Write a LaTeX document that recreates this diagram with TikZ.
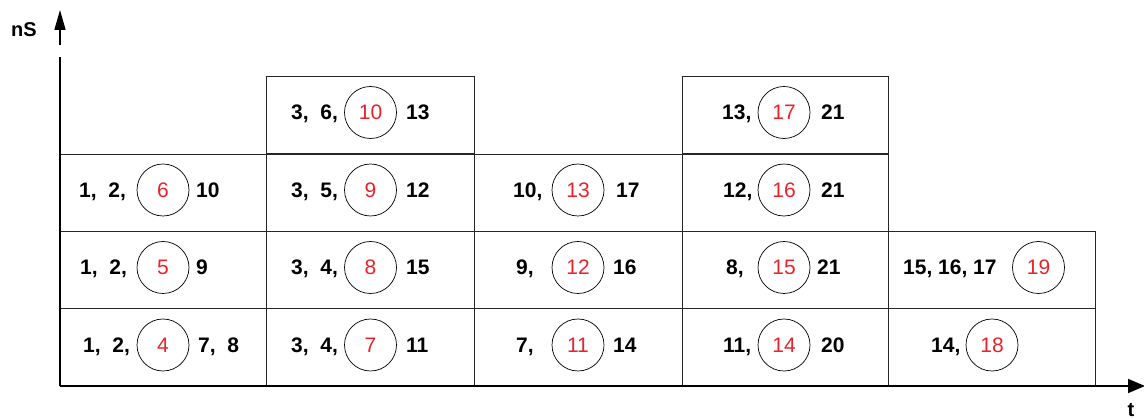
\documentclass[tikz,border=0pt]{standalone}
\usepackage{fontspec}
\setmainfont{Liberation Sans}
\usetikzlibrary{arrows.meta}
\definecolor{numred}{HTML}{E8232A}
\begin{document}
\begin{tikzpicture}[x=1pt,y=-1pt,
  cell/.style={draw=black!85, line width=0.8pt},
  num/.style={font=\fontsize{21}{21}\selectfont\bfseries, anchor=base west, inner sep=0pt},
  ring/.style={circle, draw, line width=0.7pt, minimum size=52pt, inner sep=0pt, text=numred, font=\fontsize{21}{21}\selectfont},
  axis/.style={line width=1.6pt}]
\useasboundingbox (0,0) rectangle (1144,419);
% boxes
\foreach \y in {154,231,308} \draw[cell] (60,\y) rectangle (266,\y+77);
\foreach \y in {76,154,231,308} \draw[cell] (266,\y) rectangle (474,\y+77);
\foreach \y in {154,231,308} \draw[cell] (474,\y) rectangle (682,\y+77);
\foreach \y in {76,154,231,308} \draw[cell] (682,\y) rectangle (888,\y+77);
\foreach \y in {231,308} \draw[cell] (888,\y) rectangle (1095,\y+77);
% axes
\coordinate (o) at (60,386);
\coordinate (ybreak) at (60,57);
\coordinate (ystart) at (60,45);
\coordinate (ytop) at (60,10);
\coordinate (xend) at (1145,386);
\draw[axis] (o) -- (ybreak);
\draw[axis,-{Triangle[length=20pt,width=11pt]}] (ystart) -- (ytop);
\draw[axis,-{Triangle[length=17pt,width=14pt]}] (o) -- (xend);
\node[font=\fontsize{20}{20}\selectfont\bfseries, inner sep=0pt] (ns) at (24,30) {nS};
\node[font=\fontsize{20}{20}\selectfont\bfseries, inner sep=0pt, anchor=north] (t) at (1131,403) {t};
% circles
\node[ring] (c6) at (163,190) {6};
\node[ring] (c5) at (163,267.5) {5};
\node[ring] (c4) at (163,345) {4};
\node[ring] (c10) at (370.5,112.5) {10};
\node[ring] (c9) at (370.5,190) {9};
\node[ring] (c8) at (370.5,267.5) {8};
\node[ring] (c7) at (370.5,345) {7};
\node[ring] (c13) at (578,190) {13};
\node[ring] (c12) at (578,267.5) {12};
\node[ring] (c11) at (578,345) {11};
\node[ring] (c17) at (784,112.5) {17};
\node[ring] (c16) at (784,190) {16};
\node[ring] (c15) at (784,267.5) {15};
\node[ring] (c14) at (784,345) {14};
\node[ring] (c19) at (1038.5,267.5) {19};
\node[ring] (c18) at (992,345) {18};
% texts
\node[num] (l6) at (79,197.5) {1,\ \ 2,};
\node[num] (r6) at (196,197.5) {10};
\node[num] (l5) at (80,275) {1,\ \ 2,};
\node[num] (r5) at (196,275) {9};
\node[num] (l4) at (83,352.5) {1,\ \ 2,};
\node[num] (r4) at (198,352.5) {7,\ \ 8};
\node[num] (l10) at (291,120) {3,\ \ 6,};
\node[num] (r10) at (406,120) {13};
\node[num] (l9) at (291,197.5) {3,\ \ 5,};
\node[num] (r9) at (406,197.5) {12};
\node[num] (l8) at (291,275) {3,\ \ 4,};
\node[num] (r8) at (406,275) {15};
\node[num] (l7) at (291,352.5) {3,\ \ 4,};
\node[num] (r7) at (406,352.5) {11};
\node[num] (l13) at (513,197.5) {10,};
\node[num] (r13) at (616,197.5) {17};
\node[num] (l12) at (516,275) {9,};
\node[num] (r12) at (613,275) {16};
\node[num] (l11) at (516,352.5) {7,};
\node[num] (r11) at (613,352.5) {14};
\node[num] (l17) at (722,120) {13,};
\node[num] (r17) at (821,120) {21};
\node[num] (l16) at (723,197.5) {12,};
\node[num] (r16) at (821,197.5) {21};
\node[num] (l15) at (726,275) {8,};
\node[num] (r15) at (817,275) {21};
\node[num] (l14) at (723,352.5) {11,};
\node[num] (r14) at (821,352.5) {20};
\node[num] (l19) at (903,275) {15, 16, 17};
\node[num] (l18) at (931,352.5) {14,};
\end{tikzpicture}
\end{document}
